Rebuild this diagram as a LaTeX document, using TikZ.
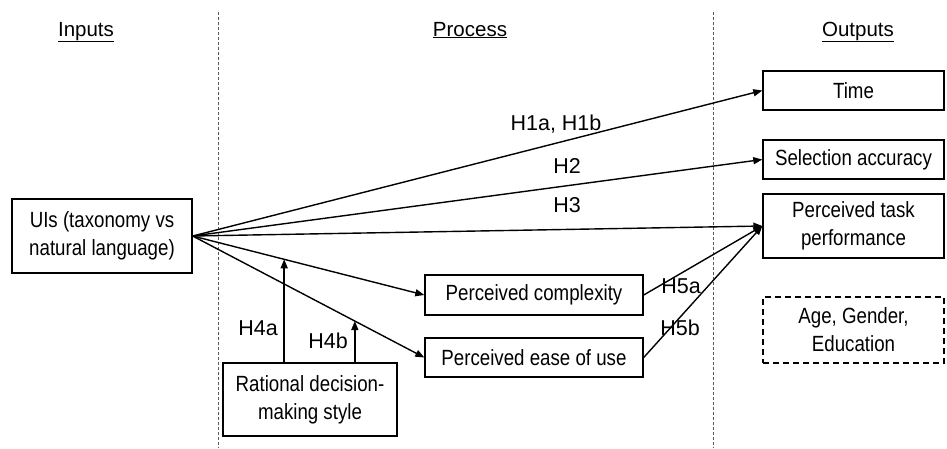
\documentclass[tikz,border=0pt]{standalone}
\usepackage{fontspec}
\setmainfont{Liberation Sans}
\newfontfamily\boxfont[FakeStretch=0.85]{Liberation Sans}
\usetikzlibrary{arrows.meta}
\begin{document}
\begin{tikzpicture}[x=1pt,y=-1pt,
  box/.style={draw,line width=1.4pt,align=center,inner sep=2pt,
    font=\boxfont\fontsize{22}{28}\selectfont},
  optbox/.style={box,dashed,dash pattern=on 6pt off 4pt},
  link/.style={line width=1.4pt,-{Triangle[length=9pt,width=7pt]}},
  divider/.style={line width=0.6pt,gray!70!black,dash pattern=on 3pt off 2pt},
  head/.style={anchor=base,font=\fontsize{20.5}{24}\selectfont},
  hlabel/.style={anchor=base,inner sep=0pt,font=\fontsize{21.5}{24}\selectfont}]
  \useasboundingbox (0,0) rectangle (947,448);

  % column dividers
  \coordinate (d1top) at (218,12);
  \coordinate (d1bot) at (218,448);
  \coordinate (d2top) at (713,12);
  \coordinate (d2bot) at (713,448);
  \draw[divider] (d1top) -- (d1bot);
  \draw[divider] (d2top) -- (d2bot);

  % column headings
  \node[head] (hin)  at (86,36)  {\underline{Inputs}};
  \node[head] (hpro) at (470,36) {\underline{Process}};
  \node[head] (hout) at (858,36) {\underline{Outputs}};

  % boxes
  \node[box,minimum width=180pt,minimum height=74pt] (ui) at (102,236)
    {UIs (taxonomy vs\\natural language)};
  \node[box,minimum width=174pt,minimum height=73pt] (rat) at (310,399.5)
    {Rational decision-\\making style};
  \node[box,minimum width=218pt,minimum height=40pt] (pc) at (534,295)
    {Perceived complexity};
  \node[box,minimum width=218pt,minimum height=39pt] (peu) at (534,357.5)
    {Perceived ease of use};
  \node[box,minimum width=181pt,minimum height=39pt] (time) at (853.5,90.5)
    {Time};
  \node[box,minimum width=181pt,minimum height=39pt] (sel) at (853.5,159.5)
    {Selection accuracy};
  \node[box,minimum width=181pt,minimum height=64pt] (ptp) at (853.5,226)
    {Perceived task\\performance};
  \node[optbox,minimum width=181pt,minimum height=66pt] (ctl) at (853.5,330)
    {Age, Gender,\\Education};

  % direct effects
  \draw[link] (ui.east) -- (time.west);
  \draw[link] (ui.east) -- (sel.west);
  \draw[link] (ui.east) -- (ptp.west);
  \draw[link] (ui.east) -- coordinate[pos=0.395] (h4atip) (pc.west);
  \draw[link] (ui.east) -- coordinate[pos=0.70] (h4btip) (peu.west);
  \draw[link] (pc.east) -- (ptp.west);
  \draw[link] (peu.east) -- (ptp.west);

  % moderation
  \draw[link] (h4atip |- rat.north) -- (h4atip);
  \draw[link] (h4btip |- rat.north) -- (h4btip);

  % hypothesis labels (placed by baseline)
  \node[hlabel] (l1)  at (556,130) {H1a, H1b};
  \node[hlabel] (l2)  at (567,173) {H2};
  \node[hlabel] (l3)  at (567,212) {H3};
  \node[hlabel] (l4a) at (258,335) {H4a};
  \node[hlabel] (l4b) at (328,348) {H4b};
  \node[hlabel] (l5a) at (681,293) {H5a};
  \node[hlabel] (l5b) at (680,335) {H5b};
\end{tikzpicture}
\end{document}
